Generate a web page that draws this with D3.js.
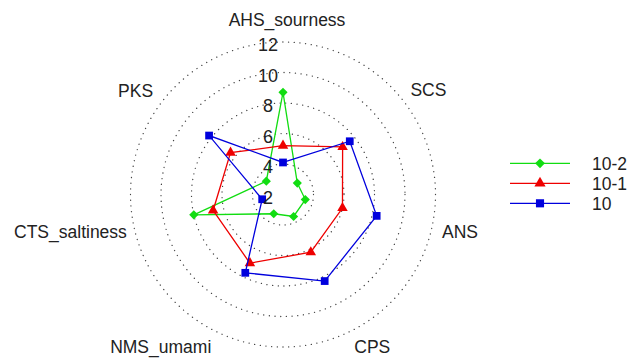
<!DOCTYPE html>
<html>
<head>
<meta charset="utf-8">
<script src="https://cdn.jsdelivr.net/npm/d3@7/dist/d3.min.js"></script>
<style>
  html, body { margin: 0; padding: 0; background: #fff; }
  svg { display: block; }
  text { font-family: "Liberation Sans", Arial, sans-serif; fill: #222; }
</style>
</head>
<body>
<svg id="chart" width="630" height="358"></svg>
<script>
// Sensory attributes, clockwise from the top
const attributes = ["AHS_sourness", "SCS", "ANS", "CPS", "NMS_umami", "CTS_saltiness", "PKS"];
const seriesNames = ["10-2", "10-1", "10"];
const values10_2 = [8.7, 3.2, 3.5, 3.6, 3.4, 8.0, 3.4];
const values10_1 = [5.2, 7.0, 6.0, 6.2, 7.0, 6.7, 6.4];
const values10   = [4.1, 7.6, 8.3, 8.3, 7.7, 3.4, 8.2];
const tickValues = [2, 4, 6, 8, 10, 12];

const seriesValues = [values10_2, values10_1, values10];
const colors = ["#11dd11", "#ee0000", "#0000dd"];
const symbols = [d3.symbolSquare, d3.symbolTriangle, d3.symbolSquare];
const symbolSizes = [42, 48, 60];
const symbolRotate = [45, 0, 0];

const svg = d3.select("#chart");
const cx = 283, cy = 194.5, R = 152.5;

const r = d3.scaleLinear().domain([2, 12]).range([0, R]);
const angle = d3.scaleLinear().domain([0, attributes.length]).range([0, 2 * Math.PI]);

const g = svg.append("g").attr("transform", `translate(${cx},${cy})`);

// Dotted reference rings
g.selectAll("circle.ring")
  .data(tickValues.filter(t => t > 2))
  .join("circle")
  .attr("class", "ring")
  .attr("r", d => r(d))
  .attr("fill", "none")
  .attr("stroke", "#444")
  .attr("stroke-width", 1.3)
  .attr("stroke-linecap", "round")
  .attr("stroke-dasharray", "0.1 5.6");

// Attribute labels
const labelRadius = 177;
const labelNudge = {
  "AHS_sourness": [4, 2.5], "SCS": [7, 6], "ANS": [4.5, -2], "CPS": [12.5, -6.5],
  "NMS_umami": [-45.5, -6.5], "CTS_saltiness": [-40, -2], "PKS": [-9, 7]
};
g.selectAll("text.attr")
  .data(attributes)
  .join("text")
  .attr("class", "attr")
  .attr("x", (d, i) => labelRadius * Math.sin(angle(i)) + labelNudge[d][0])
  .attr("y", (d, i) => -labelRadius * Math.cos(angle(i)) + labelNudge[d][1])
  .attr("text-anchor", "middle")
  .attr("dominant-baseline", "central")
  .style("font-size", "17.5px")
  .text(d => d);

// Series polygons and markers
const line = d3.lineRadial()
  .angle((d, i) => angle(i))
  .radius(d => r(d))
  .curve(d3.curveLinearClosed);

seriesValues.forEach((vals, s) => {
  const sg = g.append("g");
  sg.append("path")
    .datum(vals)
    .attr("d", line)
    .attr("fill", "none")
    .attr("stroke", colors[s])
    .attr("stroke-width", 1.3);
  sg.selectAll("path.pt")
    .data(vals)
    .join("path")
    .attr("class", "pt")
    .attr("d", d3.symbol().type(symbols[s]).size(symbolSizes[s]))
    .attr("transform", (d, i) => {
      const a = angle(i);
      return `translate(${r(d) * Math.sin(a)},${-r(d) * Math.cos(a)}) rotate(${symbolRotate[s]})`;
    })
    .attr("fill", colors[s]);
});

// Radial tick labels along the top axis
g.selectAll("text.tick")
  .data(tickValues)
  .join("text")
  .attr("class", "tick")
  .attr("x", -15)
  .attr("y", d => -r(d) + 3)
  .attr("text-anchor", "middle")
  .attr("dominant-baseline", "central")
  .style("font-size", "18px")
  .text(d => d);

// Legend
const legend = svg.append("g").attr("transform", "translate(510,163.3)");
seriesNames.forEach((name, s) => {
  const row = legend.append("g").attr("transform", `translate(0,${s * 20})`);
  row.append("line")
    .attr("x1", 0).attr("x2", 60)
    .attr("stroke", colors[s]).attr("stroke-width", 1.3);
  row.append("path")
    .attr("d", d3.symbol().type(symbols[s]).size(symbolSizes[s] + 6))
    .attr("transform", `translate(30,0) rotate(${symbolRotate[s]})`)
    .attr("fill", colors[s]);
  row.append("text")
    .attr("x", 82)
    .attr("y", 1)
    .attr("dominant-baseline", "central")
    .style("font-size", "17.5px")
    .text(name);
});
</script>
</body>
</html>
